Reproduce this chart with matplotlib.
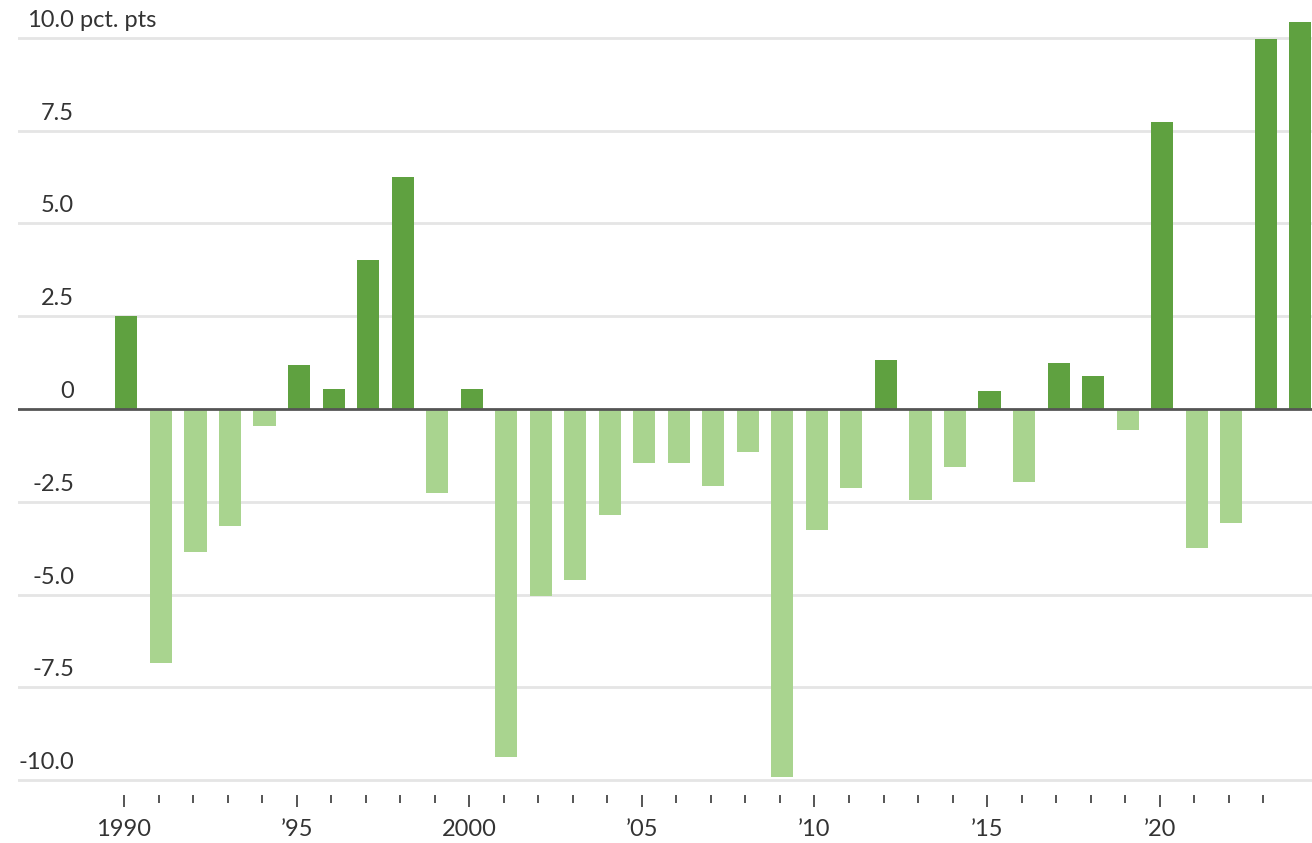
import matplotlib
matplotlib.use("Agg")
import matplotlib.pyplot as plt
from matplotlib.ticker import FixedLocator
import matplotlib.transforms as mtransforms

plt.rcParams['font.family'] = ['Lato', 'DejaVu Sans']

years = list(range(1990, 2025))
values = [2.5, -6.85, -3.85, -3.15, -0.46, 1.19, 0.54, 4.02, 6.25, -2.26,
          0.54, -9.38, -5.04, -4.61, -2.86, -1.46, -1.46, -2.08, -1.16, -9.92,
          -3.26, -2.13, 1.32, -2.45, -1.56, 0.49, -1.97, 1.24, 0.89, -0.57,
          7.74, -3.75, -3.07, 9.97, 10.43]

major_years = [1990, 1995, 2000, 2005, 2010, 2015, 2020]
major_labels = ['1990', '\u201995', '2000', '\u201905', '\u201910', '\u201915', '\u201920']
minor_years = [y for y in range(1991, 2024) if y not in major_years]

y_grid = [-10, -7.5, -5, -2.5, 0, 2.5, 5, 7.5, 10]
y_labels = ['-10.0', '-7.5', '-5.0', '-2.5', '0', '2.5', '5.0', '7.5', '10.0']

pos_color = '#5fa140'
neg_color = '#a9d48f'
text_color = '#333333'

fig = plt.figure(figsize=(13.12, 8.43), dpi=100)
ax = fig.add_axes([18 / 1312, (843 - 795) / 843, 1 - 18 / 1312, 795 / 843])

colors = [pos_color if v >= 0 else neg_color for v in values]
ax.bar([y + 0.07 for y in years], values, width=0.64, color=colors, zorder=3)

for g in y_grid:
    if g == 0:
        ax.axhline(g, color='#555555', lw=2, zorder=4)
    else:
        ax.axhline(g, color='#e5e5e5', lw=2, zorder=1)

ax.set_xlim(1986.93, 2024.41)
ax.set_ylim(-10.4, 11.02)

for s in ax.spines.values():
    s.set_visible(False)

ax.set_yticks([])
ax.xaxis.set_major_locator(FixedLocator(major_years))
ax.set_xticklabels(major_labels)
ax.xaxis.set_minor_locator(FixedLocator(minor_years))
ax.tick_params(axis='x', which='major', length=8.6, width=1.4, color='#555555',
               pad=9, labelsize=17, labelcolor=text_color)
ax.tick_params(axis='x', which='minor', length=5.5, width=1.4, color='#555555')

# y labels sitting above the gridlines
trans = mtransforms.blended_transform_factory(ax.transAxes, ax.transData)
off = mtransforms.offset_copy(trans, fig=fig, x=0, y=7, units='dots')
for g, lab in zip(y_grid, y_labels):
    t = ax.text(56 / 1294, g, lab, transform=off, ha='right', va='bottom',
                fontsize=17, color=text_color, zorder=5)
    if g == 10:
        ax.annotate(' pct. pts', xy=(1, 0), xycoords=t, ha='left', va='bottom',
                    fontsize=17, color=text_color)

fig.savefig('out.png', dpi=100)
